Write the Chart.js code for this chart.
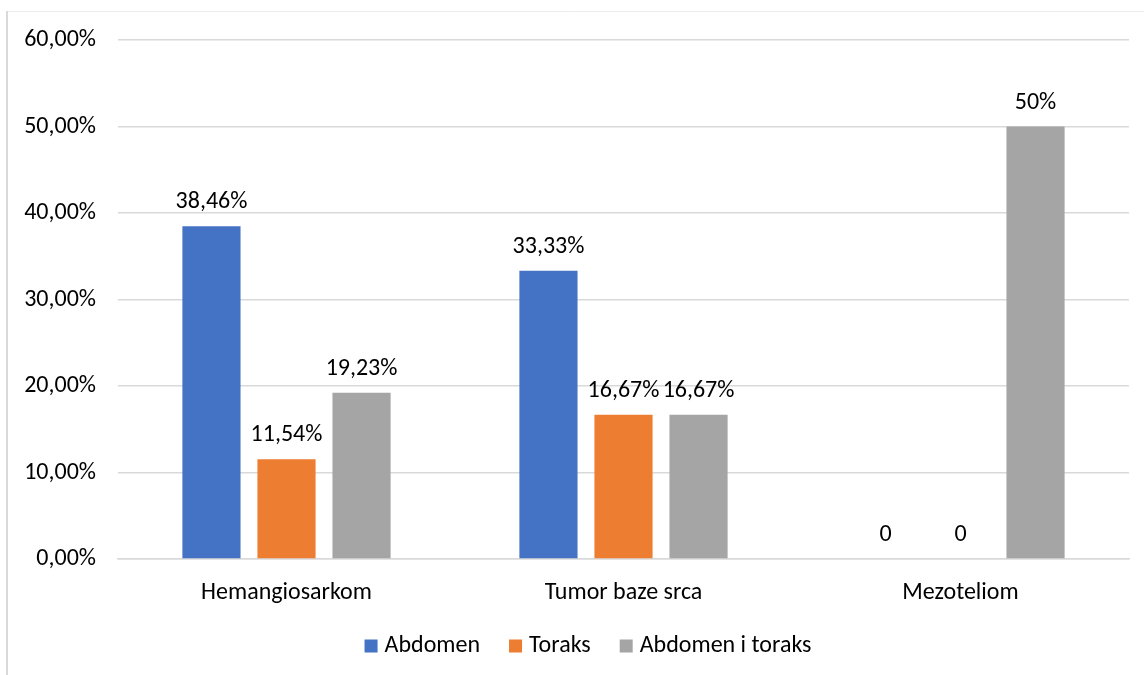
<!DOCTYPE html>
<html>
<head>
<meta charset="utf-8">
<script src="https://cdn.jsdelivr.net/npm/chart.js@4.4.1/dist/chart.umd.min.js"></script>
<style>
  html, body { margin: 0; padding: 0; background: #fff; }
  #wrap { position: relative; width: 1144px; height: 675px; }
</style>
</head>
<body>
<div id="wrap"><canvas id="c" width="1144" height="675"></canvas></div>
<script>
const categories = ["Hemangiosarkom", "Tumor baze srca", "Mezoteliom"];
const seriesNames = ["Abdomen", "Toraks", "Abdomen i toraks"];
const abdomen = [38.46, 33.33, 0];
const toraks = [11.54, 16.67, 0];
const abdomenToraks = [19.23, 16.67, 50];
const abdomenLabels = ["38,46%", "33,33%", "0"];
const toraksLabels = ["11,54%", "16,67%", "0"];
const abdomenToraksLabels = ["19,23%", "16,67%", "50%"];
const colors = ["#4472C4", "#ED7D31", "#A5A5A5"];

const FONT = "Carlito, Lato, 'Open Sans', sans-serif";
const FS = 24;

const borderPlugin = {
  id: 'frame',
  beforeDraw(chart) {
    const ctx = chart.ctx;
    ctx.save();
    ctx.fillStyle = '#fff';
    ctx.fillRect(0, 0, chart.width, chart.height);
    ctx.strokeStyle = '#ececec';
    ctx.lineWidth = 1;
    ctx.beginPath();
    ctx.moveTo(7, 11.5);
    ctx.lineTo(chart.width, 11.5);
    ctx.stroke();
    ctx.strokeStyle = '#d9d9d9';
    ctx.lineWidth = 2;
    ctx.beginPath();
    ctx.moveTo(7, 11);
    ctx.lineTo(7, chart.height);
    ctx.stroke();
    ctx.restore();
  }
};

const labelPlugin = {
  id: 'valueLabels',
  afterDatasetsDraw(chart) {
    const ctx = chart.ctx;
    ctx.save();
    ctx.font = FS + "px " + FONT;
    ctx.fillStyle = '#000';
    ctx.textAlign = 'center';
    ctx.textBaseline = 'middle';
    chart.data.datasets.forEach((ds, i) => {
      const meta = chart.getDatasetMeta(i);
      meta.data.forEach((el, j) => {
        ctx.fillText(ds.valueLabels[j], el.x, el.y - 24);
      });
    });
    ctx.restore();
  }
};

const legendPlugin = {
  id: 'customLegend',
  afterDraw(chart) {
    const ctx = chart.ctx;
    ctx.save();
    ctx.font = FS + "px " + FONT;
    ctx.textBaseline = 'middle';
    ctx.textAlign = 'left';
    const box = 13, gapText = 7, gapItem = 29, cy = 646, centerX = 588;
    const items = chart.data.datasets.map(ds => ({ text: ds.label, color: ds.backgroundColor, w: ctx.measureText(ds.label).width }));
    let total = 0;
    items.forEach((it, i) => { total += box + gapText + it.w + (i < items.length - 1 ? gapItem : 0); });
    let x = centerX - total / 2;
    items.forEach(it => {
      ctx.fillStyle = it.color;
      ctx.fillRect(x, cy - box / 2, box, box);
      ctx.fillStyle = '#000';
      ctx.fillText(it.text, x + box + gapText, cy);
      x += box + gapText + it.w + gapItem;
    });
    ctx.restore();
  }
};

new Chart(document.getElementById('c'), {
  type: 'bar',
  data: {
    labels: categories,
    datasets: [
      { label: seriesNames[0], data: abdomen, valueLabels: abdomenLabels, backgroundColor: colors[0] },
      { label: seriesNames[1], data: toraks, valueLabels: toraksLabels, backgroundColor: colors[1] },
      { label: seriesNames[2], data: abdomenToraks, valueLabels: abdomenToraksLabels, backgroundColor: colors[2] }
    ]
  },
  options: {
    responsive: false,
    animation: false,
    devicePixelRatio: 1,
    layout: { padding: { top: 40, right: 15, bottom: 56, left: 0 } },
    datasets: { bar: { categoryPercentage: 0.668, barPercentage: 0.775 } },
    plugins: {
      legend: { display: false },
      tooltip: { enabled: false }
    },
    scales: {
      x: {
        afterFit(scale) { scale.height = 60; },
        grid: { display: false, drawTicks: false },
        border: { display: true, color: '#d9d9d9', width: 1.5 },
        ticks: { font: { family: FONT, size: FS }, color: '#000', padding: 20, maxRotation: 0 }
      },
      y: {
        min: 0, max: 60,
        afterFit(scale) { scale.width = 118; },
        grid: { color: '#d9d9d9', lineWidth: 1.5, drawTicks: false },
        border: { display: false },
        ticks: {
          stepSize: 10,
          padding: 22,
          font: { family: FONT, size: FS },
          color: '#000',
          callback: v => v.toFixed(2).replace('.', ',') + '%'
        }
      }
    }
  },
  plugins: [borderPlugin, labelPlugin, legendPlugin]
});
</script>
</body>
</html>
